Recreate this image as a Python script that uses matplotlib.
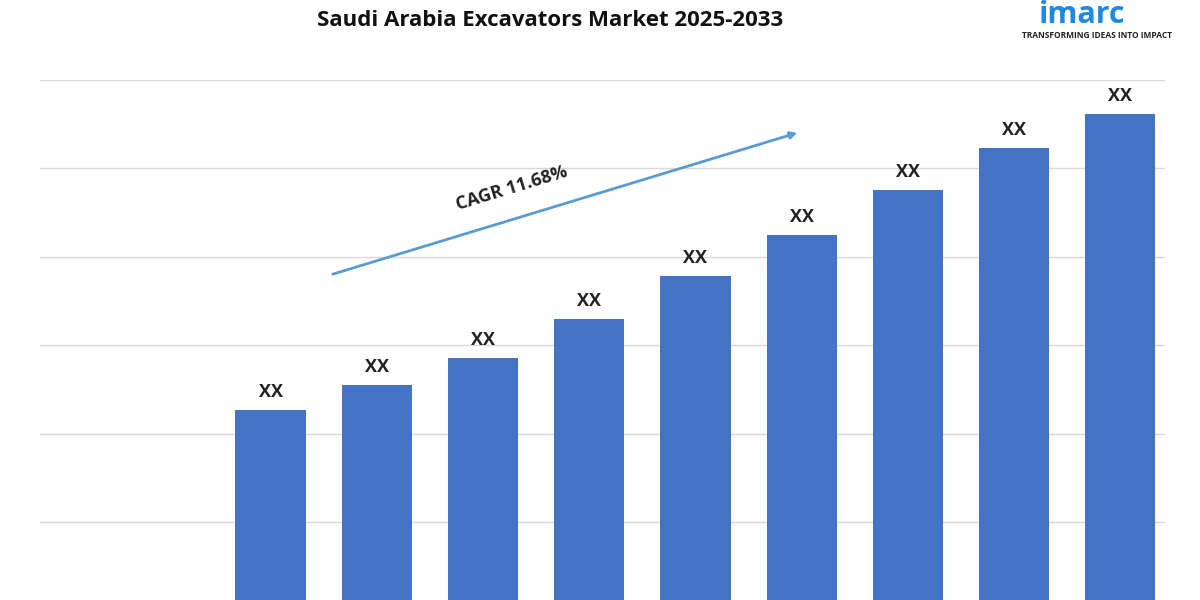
import matplotlib.pyplot as plt
import numpy as np

years = ['2025', '2026', '2027', '2028', '2029', '2030', '2031', '2032', '2033']
values = [2.27, 2.55, 2.86, 3.30, 3.79, 4.25, 4.76, 5.23, 5.62]
bar_labels = ['XX'] * len(values)

plt.rcParams['font.family'] = ['Open Sans', 'DejaVu Sans']

fig = plt.figure(figsize=(12, 6), dpi=100)
ax = fig.add_axes([40 / 1200, 0.0, 1125 / 1200, 520 / 600])

x = np.arange(len(values))
ax.bar(x, values, width=0.66, color='#4472C4', zorder=2)
for xi, v, lab in zip(x, values, bar_labels):
    ax.text(xi, v + 0.1, lab, ha='center', va='bottom', fontsize=13, fontweight='bold', color='#222222')

ax.set_xlim(-2.17, 8.42)
ax.set_ylim(0.124, 6)
ax.set_yticks([1, 2, 3, 4, 5, 6])
ax.yaxis.grid(True, color='#d9d9d9', linewidth=1, zorder=0)
ax.set_xticks([])
ax.tick_params(left=False, labelleft=False)
for s in ax.spines.values():
    s.set_visible(False)

# CAGR arrow
fig.patches.append(plt.matplotlib.patches.FancyArrowPatch(
    (330 / 1200, 1 - 275 / 600), (800 / 1200, 1 - 132 / 600), transform=fig.transFigure,
    arrowstyle='-|>', mutation_scale=10, color='#5B9BD5', linewidth=2))
fig.text(512 / 1200, 1 - 188 / 600, 'CAGR 11.68%', rotation=17, ha='center', va='center',
         fontsize=13, fontweight='bold', color='#222222')

fig.text(550 / 1200, 1 - 20 / 600, 'Saudi Arabia Excavators Market 2025-2033', ha='center',
         va='center', fontsize=16, fontweight='bold', color='#111111')

# logo
fig.text(1082 / 1200, 1 - 15 / 600, 'imarc', ha='center', va='center', fontsize=22,
         fontweight='bold', color='#1E88E5')
fig.text(1097 / 1200, 1 - 35 / 600, 'TRANSFORMING IDEAS INTO IMPACT', ha='center', va='center',
         fontsize=6, fontweight='bold', color='#222222')

fig.savefig('out.png', dpi=100)
